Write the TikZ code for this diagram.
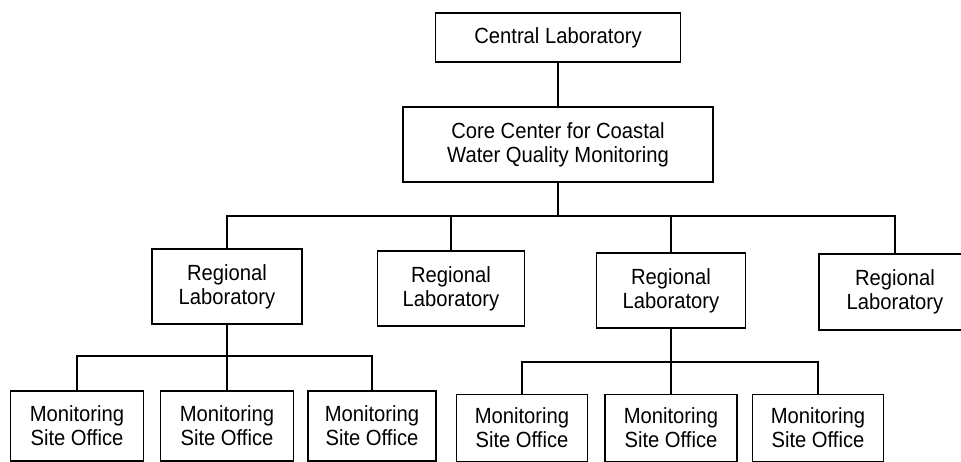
\documentclass[tikz,border=0pt]{standalone}
\usepackage{fontspec}
\setmainfont{Liberation Sans}[FakeStretch=0.92]
\usetikzlibrary{positioning}

\begin{document}
\begin{tikzpicture}[
		x=0.02cm, y=-0.02cm,
		every node/.style={font=\fontsize{12.5pt}{13.8pt}\selectfont, align=center, inner sep=0pt},
		box/.style={draw, line width=1.1pt, fill=white},
		link/.style={line width=1.2pt}
	]
		\useasboundingbox (0,0) rectangle (961,461);
		\clip (0,0) rectangle (961,461);

		% top levels
		\node[box, minimum width=4.9cm, minimum height=0.98cm] (central) at (558,37.5) {Central Laboratory};
		\node[box, minimum width=6.2cm, minimum height=1.5cm] (core) at (558,144.5) {Core Center for Coastal\\Water Quality Monitoring};

		% regional laboratories
		\node[box, minimum width=3cm, minimum height=1.5cm] (reg1) at (227,286.5) {Regional\\Laboratory};
		\node[box, minimum width=2.94cm, minimum height=1.5cm] (reg2) at (451,288.5) {Regional\\Laboratory};
		\node[box, minimum width=2.98cm, minimum height=1.5cm] (reg3) at (671,290.5) {Regional\\Laboratory};
		\node[box, minimum width=3.04cm, minimum height=1.52cm] (reg4) at (895,292) {Regional\\Laboratory};

		% monitoring site offices
		\node[box, minimum width=2.66cm, minimum height=1.4cm] (site1) at (77,426) {Monitoring\\Site Office};
		\node[box, minimum width=2.66cm, minimum height=1.4cm] (site2) at (227,426) {Monitoring\\Site Office};
		\node[box, minimum width=2.56cm, minimum height=1.4cm] (site3) at (372,426) {Monitoring\\Site Office};
		\node[box, minimum width=2.62cm, minimum height=1.34cm] (site4) at (522,428) {Monitoring\\Site Office};
		\node[box, minimum width=2.64cm, minimum height=1.34cm] (site5) at (671,428) {Monitoring\\Site Office};
		\node[box, minimum width=2.62cm, minimum height=1.34cm] (site6) at (818,428) {Monitoring\\Site Office};

		\coordinate (busA) at (558,216);
		\coordinate (busB) at (227,356);
		\coordinate (busC) at (671,362);

		\draw[link] (central) -- (core);
		\draw[link] (core) -- (busA);
		\draw[link] (reg1.north) |- (busA) -| (reg4.north);
		\draw[link] (reg2.north) -- (reg2.north |- busA);
		\draw[link] (reg3.north) -- (reg3.north |- busA);

		\draw[link] (reg1) -- (busB);
		\draw[link] (site1.north) |- (busB) -| (site3.north);
		\draw[link] (busB) -- (site2);

		\draw[link] (reg3) -- (busC);
		\draw[link] (site4.north) |- (busC) -| (site6.north);
		\draw[link] (busC) -- (site5);
	\end{tikzpicture}
\end{document}
